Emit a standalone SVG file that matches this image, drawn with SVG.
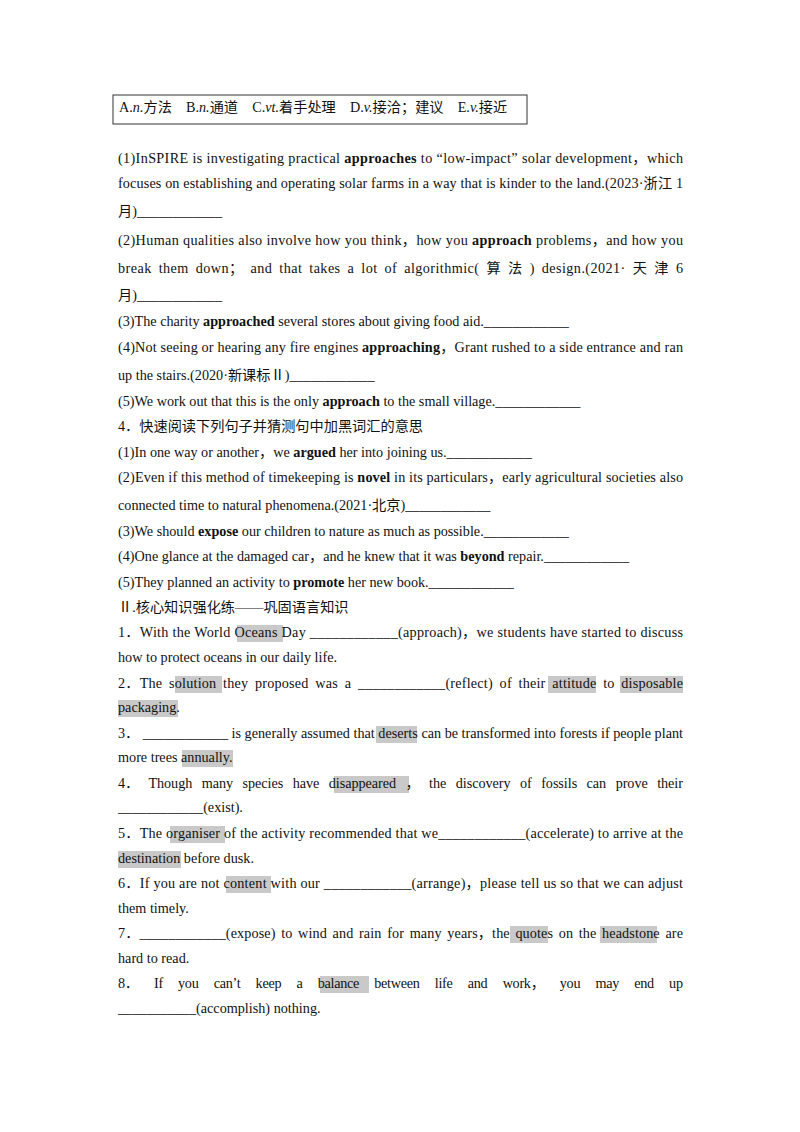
<svg xmlns="http://www.w3.org/2000/svg" width="800" height="1132" viewBox="0 0 800 1132">
<style>
text{font-family:"Liberation Serif","Noto Sans CJK SC",serif;font-size:14.2px;fill:#111}
.b{font-weight:bold}
.h{fill:#c9c9c9}
</style>
<rect width="800" height="1132" fill="#fff"/>
<g id="options">
<rect x="113" y="95" width="414" height="29" fill="none" stroke="#333" stroke-width="1"/>
<text x="119" y="112">A.<tspan font-style="italic">n.</tspan>方法　B.<tspan font-style="italic">n.</tspan>通道　C.<tspan font-style="italic">vt.</tspan>着手处理　D.<tspan font-style="italic">v.</tspan>接洽；建议　E.<tspan font-style="italic">v.</tspan>接近</text>
</g>
<g id="highlights">
<rect class="h" x="237" y="625" width="46" height="17"/>
<rect class="h" x="175" y="676" width="47" height="17"/>
<rect class="h" x="548" y="676" width="48" height="17"/>
<rect class="h" x="620" y="676" width="63" height="17"/>
<rect class="h" x="118" y="700" width="60" height="17"/>
<rect class="h" x="376" y="726" width="41" height="17"/>
<rect class="h" x="182" y="750" width="51" height="17"/>
<rect class="h" x="334" y="776" width="75" height="17"/>
<rect class="h" x="170" y="826" width="55" height="17"/>
<rect class="h" x="118" y="851" width="63" height="17"/>
<rect class="h" x="226" y="876" width="45" height="17"/>
<rect class="h" x="510" y="926" width="38" height="17"/>
<rect class="h" x="600" y="926" width="57" height="17"/>
<rect class="h" x="320" y="976" width="49" height="17"/>
</g>
<g id="text">
<text x="118" y="163" textLength="565" lengthAdjust="spacing">(1)InSPIRE is investigating practical <tspan class="b">approaches</tspan> to “low-impact” solar development，which</text>
<text x="118" y="188" textLength="565" lengthAdjust="spacing">focuses on establishing and operating solar farms in a way that is kinder to the land.(2023·浙江 1</text>
<text x="118" y="216">月)____________</text>
<text x="118" y="245" textLength="565" lengthAdjust="spacing">(2)Human qualities also involve how you think，how you <tspan class="b">approach</tspan> problems，and how you</text>
<text x="118" y="273" word-spacing="3" textLength="565" lengthAdjust="spacing">break them down； and that takes a lot of algorithmic( 算 法 ) design.(2021· 天 津 6</text>
<text x="118" y="300">月)____________</text>
<text x="118" y="326">(3)The charity <tspan class="b">approached</tspan> several stores about giving food aid.____________</text>
<text x="118" y="352" textLength="565" lengthAdjust="spacing">(4)Not seeing or hearing any fire engines <tspan class="b">approaching</tspan>，Grant rushed to a side entrance and ran</text>
<text x="118" y="380">up the stairs.(2020·新课标Ⅱ)____________</text>
<text x="118" y="406">(5)We work out that this is the only <tspan class="b">approach</tspan> to the small village.____________</text>
<text x="118" y="431">4．快速阅读下列句子并猜测句中加黑词汇的意思</text>
<text x="118" y="457">(1)In one way or another，we <tspan class="b">argued</tspan> her into joining us.____________</text>
<text x="118" y="482" textLength="565" lengthAdjust="spacing">(2)Even if this method of timekeeping is <tspan class="b">novel</tspan> in its particulars，early agricultural societies also</text>
<text x="118" y="510">connected time to natural phenomena.(2021·北京)____________</text>
<text x="118" y="536">(3)We should <tspan class="b">expose</tspan> our children to nature as much as possible.____________</text>
<text x="118" y="561">(4)One glance at the damaged car，and he knew that it was <tspan class="b">beyond</tspan> repair.____________</text>
<text x="118" y="587">(5)They planned an activity to <tspan class="b">promote</tspan> her new book.____________</text>
<text x="118" y="612">Ⅱ.核心知识强化练——巩固语言知识</text>
<text x="118" y="637" textLength="565" lengthAdjust="spacing">1．With the World  Oceans  Day ____________(approach)，we students have started to discuss</text>
<text x="118" y="662">how to protect oceans in our daily life.</text>
<text x="118" y="688" word-spacing="3" textLength="565" lengthAdjust="spacing">2．The  solution  they proposed was a ____________(reflect) of their  attitude  to  disposable</text>
<text x="118" y="712">packaging.</text>
<text x="118" y="738" textLength="565" lengthAdjust="spacing">3． ____________ is generally assumed that  deserts  can be transformed into forests if people plant</text>
<text x="118" y="762">more trees  annually.</text>
<text x="118" y="788" word-spacing="6" textLength="565" lengthAdjust="spacing">4． Though many species have  disappeared ， the discovery of fossils can prove their</text>
<text x="118" y="812">____________(exist).</text>
<text x="118" y="838" textLength="565" lengthAdjust="spacing">5．The  organiser  of the activity recommended that we____________(accelerate) to arrive at the</text>
<text x="118" y="863">destination  before dusk.</text>
<text x="118" y="888" textLength="565" lengthAdjust="spacing">6．If you are not  content  with our ____________(arrange)，please tell us so that we can adjust</text>
<text x="118" y="913">them timely.</text>
<text x="118" y="938" word-spacing="2" textLength="565" lengthAdjust="spacing">7．____________(expose) to wind and rain for many years，the  quotes  on the  headstone  are</text>
<text x="118" y="963">hard to read.</text>
<text x="118" y="988" word-spacing="12" textLength="565" lengthAdjust="spacing">8． If you can’t keep a  balance  between life and work， you may end up</text>
<text x="118" y="1013">___________(accomplish) nothing.</text>
</g>
</svg>
